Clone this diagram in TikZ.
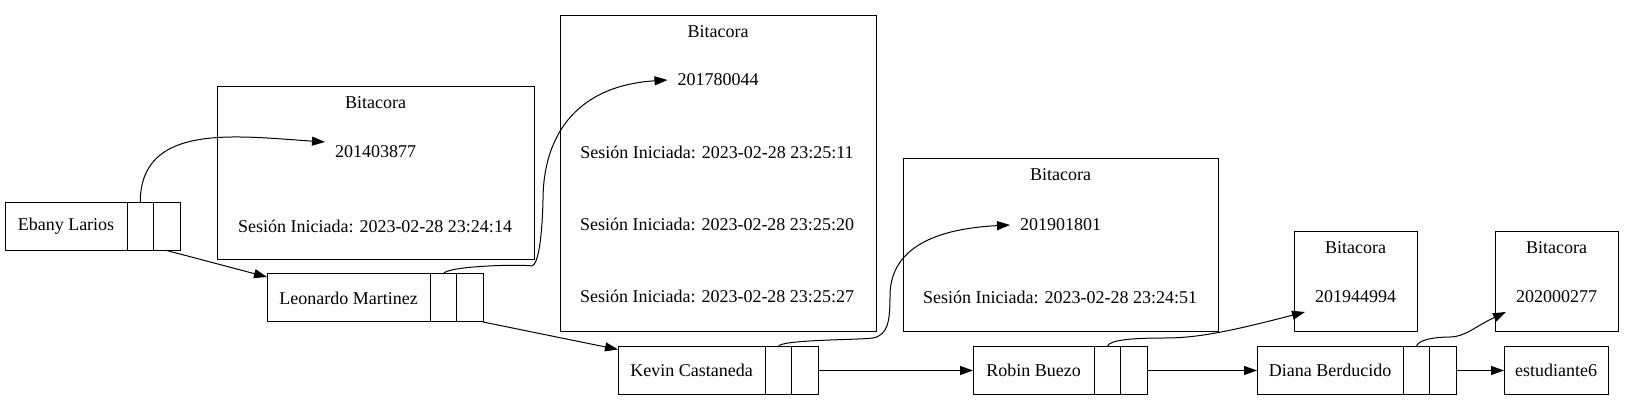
\documentclass[tikz,border=0pt]{standalone}
\usepackage{fontspec}
\setmainfont{Liberation Serif}
\usetikzlibrary{positioning,arrows.meta}

\begin{document}
\begin{tikzpicture}[x=1pt,y=1pt,
	every node/.style={font=\fontsize{18}{21}\selectfont,inner sep=0pt,outer sep=0pt},
	namebox/.style={draw,line width=1pt,minimum height=48pt,minimum width=#1},
	cellbox/.style={draw,line width=1pt,minimum height=48pt,minimum width=26.5pt},
	bitacora/.style={draw,line width=1pt},
	carnet/.style={inner xsep=10pt,minimum height=30pt},
	link/.style={line width=1pt,-{Triangle[length=13pt,width=9pt]}}]
\useasboundingbox (0,0) rectangle (1635,401);
% bitacoras
\node[bitacora,minimum width=317pt,minimum height=173pt] (bit1) at (375.5,227.5) {};
\node[bitacora,minimum width=316pt,minimum height=316pt] (bit2) at (718,227) {};
\node[bitacora,minimum width=315pt,minimum height=173pt] (bit3) at (1060.5,155.5) {};
\node[bitacora,minimum width=123pt,minimum height=100pt] (bit4) at (1355.5,119) {};
\node[bitacora,minimum width=123pt,minimum height=100pt] (bit5) at (1556.5,119) {};
\node (t1) at ([yshift=-15.5pt]bit1.north) {Bitacora};
\node (t2) at ([yshift=-15.5pt]bit2.north) {Bitacora};
\node (t3) at ([yshift=-15.5pt]bit3.north) {Bitacora};
\node (t4) at ([yshift=-15.5pt]bit4.north) {Bitacora};
\node (t5) at ([yshift=-15.5pt]bit5.north) {Bitacora};
\node[carnet] (c1) at ([yshift=-65pt]bit1.north) {201403877};
\node[carnet] (c2) at ([yshift=-64pt]bit2.north) {201780044};
\node[carnet] (c3) at ([yshift=-66pt]bit3.north) {201901801};
\node[carnet] (c4) at ([yshift=-65pt]bit4.north) {201944994};
\node[carnet] (c5) at ([yshift=-65pt]bit5.north) {202000277};
\node (s1) at (375,175) {Sesión Iniciada: 2023-02-28 23:24:14};
\node (s2a) at (717,249) {Sesión Iniciada: 2023-02-28 23:25:11};
\node (s2b) at (717,177) {Sesión Iniciada: 2023-02-28 23:25:20};
\node (s2c) at (717,105) {Sesión Iniciada: 2023-02-28 23:25:27};
\node (s3) at (1060,104) {Sesión Iniciada: 2023-02-28 23:24:51};
% estudiantes
\node[namebox=122pt] (ebany) at (66,174.5) {Ebany Larios};
\node[cellbox,right=0pt of ebany] (ebany1) {};
\node[cellbox,right=0pt of ebany1] (ebany2) {};
\node[namebox=163pt] (leo) at (348.5,103) {Leonardo Martinez};
\node[cellbox,right=0pt of leo] (leo1) {};
\node[cellbox,right=0pt of leo1] (leo2) {};
\node[namebox=147pt] (kev) at (691.5,30.5) {Kevin Castaneda};
\node[cellbox,right=0pt of kev] (kev1) {};
\node[cellbox,right=0pt of kev1] (kev2) {};
\node[namebox=121pt] (rob) at (1033.5,30.5) {Robin Buezo};
\node[cellbox,right=0pt of rob] (rob1) {};
\node[cellbox,right=0pt of rob1] (rob2) {};
\node[namebox=146pt] (dia) at (1330,30.5) {Diana Berducido};
\node[cellbox,right=0pt of dia] (dia1) {};
\node[cellbox,right=0pt of dia1] (dia2) {};
\node[namebox=104pt] (est6) at (1556,30.5) {estudiante6};
% siguiente
\draw[link] (ebany2.south) -- ([yshift=-3pt]leo.north west);
\draw[link] (leo2.south east) -- ([yshift=-3pt]kev.north west);
\draw[link] (kev2.east) -- (rob.west);
\draw[link] (rob2.east) -- (dia.west);
\draw[link] (dia2.east) -- (est6.west);
% bitacora
\draw[link] (ebany1.north) .. controls +(0,80) and +(-90,6) .. ([yshift=10pt]c1.west);
\draw[link] (leo1.north) .. controls +(2,8) and +(-12,2) .. (532,135)
	.. controls +(13,4) and +(0,40) .. (543,201)
	.. controls +(0,60) and +(-95,-6) .. (c2.west);
\draw[link] (kev1.north) .. controls +(2,7) and +(-13,-2) .. (873,63)
	.. controls +(15,3) and +(0,-25) .. (890,105)
	.. controls +(0,45) and +(-80,-4) .. (c3.west);
\draw[link] (rob1.north) .. controls +(2,7) and +(-30,0) .. (1165,63)
	.. controls +(35,0) and +(-70,-18) .. (c4.south west);
\draw[link] (dia1.north) .. controls +(2,7) and +(-15,0) .. (1450,64)
	.. controls +(15,0) and +(-30,-14) .. (c5.south west);
\end{tikzpicture}
\end{document}
